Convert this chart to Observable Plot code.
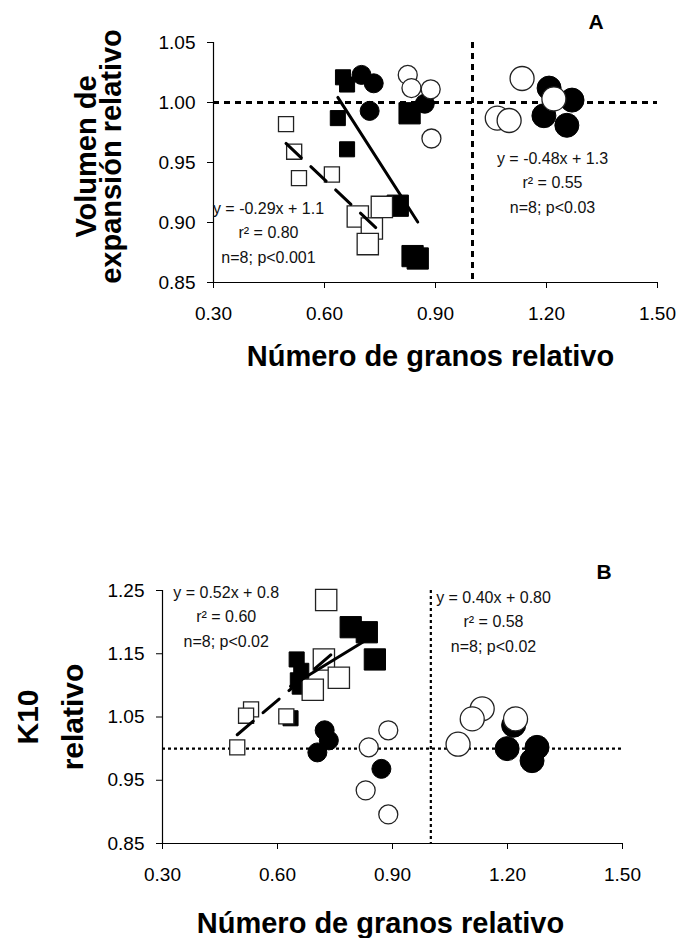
<!DOCTYPE html>
<html>
<head>
<meta charset="utf-8">
<script src="https://cdn.jsdelivr.net/npm/d3@7"></script>
<script src="https://cdn.jsdelivr.net/npm/@observablehq/plot@0.6"></script>
<style>
  html, body { margin: 0; padding: 0; background: #fff; }
  body { width: 679px; height: 938px; overflow: hidden; }
  svg { display: block; }
</style>
</head>
<body>
<div id="chart"></div>
<script>
// ---------- shared ticks / labels ----------
const xTicks = [0.30, 0.60, 0.90, 1.20, 1.50];
const yTicksA = [0.85, 0.90, 0.95, 1.00, 1.05];
const yTicksB = [0.85, 0.95, 1.05, 1.15, 1.25];
const refX = [1.00];
const refY = [1.00];
const xTitle = ["Número de granos relativo"];
const yTitleA = ["Volumen de", "expansión relativo"];
const yTitleB = ["K10", "relativo"];
const panelLabels = ["A", "B"];
const annotA = ["y = -0.29x + 1.1\nr² = 0.80\nn=8; p<0.001", "y = -0.48x + 1.3\nr² = 0.55\nn=8; p<0.03"];
const annotB = ["y = 0.52x + 0.8\nr² = 0.60\nn=8; p<0.02", "y = 0.40x + 0.80\nr² = 0.58\nn=8; p<0.02"];

// ---------- Panel A: Volumen de expansión relativo ----------
const aFilledSqX = [0.650, 0.661, 0.636, 0.661, 0.830, 0.798, 0.838, 0.852];
const aFilledSqY = [1.021, 1.015, 0.987, 0.961, 0.991, 0.914, 0.872, 0.870];
const aFilledSqG = ["G1", "G1", "G1", "G1", "G2", "G2", "G2", "G2"];

const aOpenSqX = [0.496, 0.518, 0.531, 0.620, 0.690, 0.755, 0.728, 0.717];
const aOpenSqY = [0.982, 0.959, 0.937, 0.940, 0.905, 0.913, 0.895, 0.882];
const aOpenSqG = ["G1", "G1", "G1", "G1", "G2", "G2", "G2", "G2"];

const aFilledCiX = [0.700, 0.733, 0.722, 0.871, 1.207, 1.269, 1.193, 1.255];
const aFilledCiY = [1.023, 1.016, 0.993, 0.999, 1.012, 1.002, 0.989, 0.981];
const aFilledCiG = ["G1", "G1", "G1", "G1", "G2", "G2", "G2", "G2"];

const aOpenCiX = [0.825, 0.835, 0.887, 0.889, 1.134, 1.067, 1.099, 1.220];
const aOpenCiY = [1.023, 1.012, 1.011, 0.970, 1.020, 0.987, 0.985, 1.003];
const aOpenCiG = ["G1", "G1", "G1", "G1", "G2", "G2", "G2", "G2"];

// ---------- Panel B: K10 relativo ----------
const bFilledSqX = [0.791, 0.833, 0.854, 0.650, 0.662, 0.653, 0.658, 0.634];
const bFilledSqY = [1.192, 1.184, 1.141, 1.141, 1.123, 1.108, 1.098, 1.048];
const bFilledSqG = ["G2", "G2", "G2", "G1", "G1", "G1", "G1", "G1"];

const bOpenSqX = [0.727, 0.721, 0.760, 0.692, 0.531, 0.518, 0.623, 0.495];
const bOpenSqY = [1.235, 1.141, 1.112, 1.093, 1.062, 1.052, 1.051, 1.002];
const bOpenSqG = ["G2", "G2", "G2", "G2", "G1", "G1", "G1", "G1"];

const bFilledCiX = [0.723, 0.734, 0.704, 0.871, 1.199, 1.277, 1.264, 1.216];
const bFilledCiY = [1.029, 1.013, 0.994, 0.968, 1.000, 1.002, 0.981, 1.037];
const bFilledCiG = ["G1", "G1", "G1", "G1", "G2", "G2", "G2", "G2"];

const bOpenCiX = [0.889, 0.838, 0.830, 0.889, 1.134, 1.108, 1.071, 1.221];
const bOpenCiY = [1.029, 1.002, 0.934, 0.896, 1.063, 1.047, 1.007, 1.047];
const bOpenCiG = ["G1", "G1", "G1", "G1", "G2", "G2", "G2", "G2"];

// ---------- helpers ----------
const rows = (xs, ys, gs) => xs.map((x, i) => ({x, y: ys[i], g: gs[i]}));
const FONT = "Arial, 'Liberation Sans', Helvetica, sans-serif";
const fmt = d3.format(".2f");

function dots(data, symbol, filled, rSmall, rBig) {
  const st = filled
    ? {fill: "black", stroke: "black", strokeWidth: 1}
    : {fill: "white", stroke: "#222", strokeWidth: 1.3};
  return [
    Plot.dot(data.filter(d => d.g === "G1"), {x: "x", y: "y", symbol, r: rSmall, ...st}),
    Plot.dot(data.filter(d => d.g === "G2"), {x: "x", y: "y", symbol, r: rBig, ...st})
  ];
}

function axes(yTicks) {
  return [
    Plot.ruleX([xTicks[0]], {stroke: "black", strokeWidth: 1.2}),
    Plot.ruleY([yTicks[0]], {stroke: "black", strokeWidth: 1.2}),
    Plot.axisX({ticks: xTicks, tickFormat: fmt, tickSize: 6, tickPadding: 18, fontSize: 19, label: null}),
    Plot.axisY({ticks: yTicks, tickFormat: fmt, tickSize: 6, tickPadding: 12, fontSize: 19, label: null})
  ];
}

const chart = document.getElementById("chart");

// ---------- Panel A ----------
const aFS = rows(aFilledSqX, aFilledSqY, aFilledSqG);
const aOS = rows(aOpenSqX, aOpenSqY, aOpenSqG);
const aFC = rows(aFilledCiX, aFilledCiY, aFilledCiG);
const aOC = rows(aOpenCiX, aOpenCiY, aOpenCiG);

const plotA = Plot.plot({
  width: 679, height: 460,
  marginLeft: 213, marginRight: 22, marginTop: 42, marginBottom: 178,
  x: {domain: [xTicks[0], xTicks[xTicks.length - 1]]},
  y: {domain: [yTicksA[0], yTicksA[yTicksA.length - 1]]},
  style: {fontFamily: FONT, color: "black", background: "white", overflow: "visible"},
  marks: [
    Plot.ruleY(refY, {stroke: "black", strokeWidth: 3, strokeDasharray: "6,5"}),
    Plot.ruleX(refX, {stroke: "black", strokeWidth: 3, strokeDasharray: "6,5"}),
    ...axes(yTicksA),
    ...dots(aFS, "square", true, 8.5, 12),
    ...dots(aFC, "circle", true, 9.5, 12),
    ...dots(aOS, "square", false, 8.5, 12),
    ...dots(aOC, "circle", false, 9.5, 12),
    Plot.linearRegressionY(aFS, {x: "x", y: "y", ci: 0, stroke: "black", strokeWidth: 3}),
    Plot.linearRegressionY(aOS, {x: "x", y: "y", ci: 0, stroke: "black", strokeWidth: 3, strokeDasharray: "21,13"}),
    Plot.text([annotA[0]], {text: d => d, frameAnchor: "top-left", textAnchor: "middle", lineAnchor: "bottom", lineHeight: 1.52, dx: 55, dy: 220, fontSize: 16, fill: "#111"}),
    Plot.text([annotA[1]], {text: d => d, frameAnchor: "top-left", textAnchor: "middle", lineAnchor: "bottom", lineHeight: 1.52, dx: 339, dy: 170, fontSize: 16, fill: "#111"}),
    Plot.text([panelLabels[0]], {text: d => d, frameAnchor: "top", lineAnchor: "bottom", dx: 160.5, dy: -14, fontSize: 21, fontWeight: "bold"}),
    Plot.text(xTitle, {text: d => d, frameAnchor: "bottom", lineAnchor: "bottom", dx: -5, dy: 83, fontSize: 29, fontWeight: "bold"}),
    Plot.text([yTitleA[0]], {text: d => d, frameAnchor: "left", rotate: -90, textAnchor: "middle", lineAnchor: "bottom", dx: -118, dy: -6, fontSize: 29, fontWeight: "bold"}),
    Plot.text([yTitleA[1]], {text: d => d, frameAnchor: "left", rotate: -90, textAnchor: "middle", lineAnchor: "bottom", dx: -93, dy: -6, fontSize: 29, fontWeight: "bold"})
  ]
});
chart.appendChild(plotA);

// ---------- Panel B ----------
const bFS = rows(bFilledSqX, bFilledSqY, bFilledSqG);
const bOS = rows(bOpenSqX, bOpenSqY, bOpenSqG);
const bFC = rows(bFilledCiX, bFilledCiY, bFilledCiG);
const bOC = rows(bOpenCiX, bOpenCiY, bOpenCiG);

const plotB = Plot.plot({
  width: 679, height: 478,
  marginLeft: 162, marginRight: 57, marginTop: 130, marginBottom: 95,
  x: {domain: [xTicks[0], xTicks[xTicks.length - 1]]},
  y: {domain: [yTicksB[0], yTicksB[yTicksB.length - 1]]},
  style: {fontFamily: FONT, color: "black", background: "white", overflow: "visible"},
  marks: [
    Plot.ruleY(refY, {stroke: "black", strokeWidth: 2.2, strokeDasharray: "3,3"}),
    Plot.ruleX(refX, {stroke: "black", strokeWidth: 2.2, strokeDasharray: "3,3"}),
    ...axes(yTicksB),
    ...dots(bFS, "square", true, 8.5, 12),
    ...dots(bFC, "circle", true, 9.5, 12),
    ...dots(bOS, "square", false, 8.5, 12),
    ...dots(bOC, "circle", false, 9.5, 12),
    Plot.linearRegressionY(bFS, {x: "x", y: "y", ci: 0, stroke: "black", strokeWidth: 3}),
    Plot.linearRegressionY(bOS, {x: "x", y: "y", ci: 0, stroke: "black", strokeWidth: 3, strokeDasharray: "21,13"}),
    Plot.text([annotB[0]], {text: d => d, frameAnchor: "top-left", textAnchor: "middle", lineAnchor: "bottom", lineHeight: 1.52, dx: 63.7, dy: 56, fontSize: 16, fill: "#111"}),
    Plot.text([annotB[1]], {text: d => d, frameAnchor: "top-left", textAnchor: "middle", lineAnchor: "bottom", lineHeight: 1.52, dx: 331, dy: 61, fontSize: 16, fill: "#111"}),
    Plot.text([panelLabels[1]], {text: d => d, frameAnchor: "top", lineAnchor: "bottom", dx: 211.5, dy: -12, fontSize: 21, fontWeight: "bold"}),
    Plot.text(xTitle, {text: d => d, frameAnchor: "bottom", lineAnchor: "bottom", dx: -12, dy: 89, fontSize: 29, fontWeight: "bold"}),
    Plot.text([yTitleB[0]], {text: d => d, frameAnchor: "left", rotate: -90, textAnchor: "middle", lineAnchor: "bottom", dx: -125, dy: 0, fontSize: 30, fontWeight: "bold"}),
    Plot.text([yTitleB[1]], {text: d => d, frameAnchor: "left", rotate: -90, textAnchor: "middle", lineAnchor: "bottom", dx: -80, dy: 0, fontSize: 30, fontWeight: "bold"})
  ]
});
chart.appendChild(plotB);
</script>
</body>
</html>
